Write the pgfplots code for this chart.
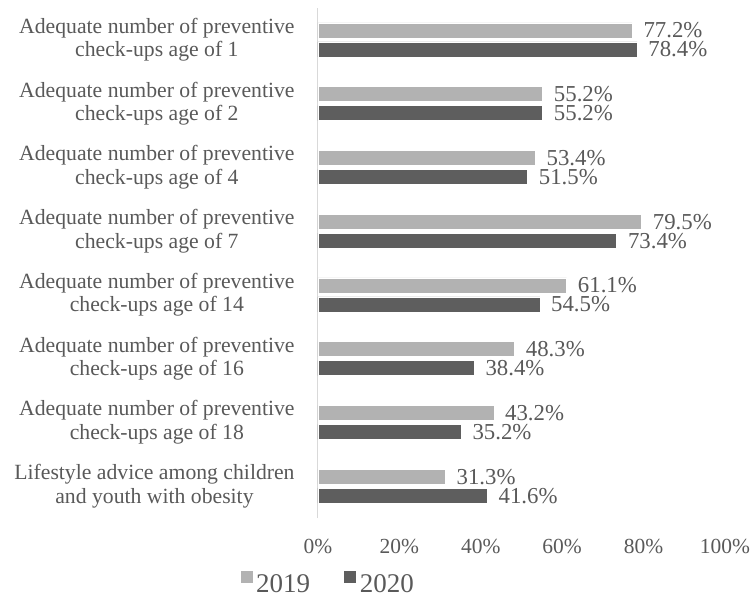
\documentclass[border=0pt]{standalone}
\usepackage{fontspec}
\setmainfont{Liberation Serif}
\usepackage{pgfplots}
\pgfplotsset{compat=1.18}
\definecolor{textgray}{HTML}{595959}
\definecolor{barlight}{HTML}{B2B2B2}
\definecolor{bardark}{HTML}{5E5E5E}
\definecolor{linegray}{HTML}{D9D9D9}
\newcommand{\cf}{\fontsize{21.5bp}{23.5bp}\selectfont}
\newcommand{\yf}{\fontsize{21.7bp}{23.5bp}\selectfont}
\newcommand{\vf}{\fontsize{22.8bp}{24bp}\selectfont}
\newcommand{\lf}{\fontsize{27bp}{29bp}\selectfont}
\begin{document}
\begin{tikzpicture}
\path[use as bounding box] (-318bp,-79bp) rectangle (433bp,518bp);
\begin{axis}[
  scale only axis,
  width=407bp, height=510bp,
  xmin=0, xmax=100, ymin=-0.5, ymax=7.5,
  clip=false,
  /pgf/number format/assume math mode=true,
  axis lines*=left,
  x axis line style={draw=none},
  y axis line style={draw=linegray, line width=1bp},
  tick style={draw=none},
  xtick={0,20,40,60,80,100},
  xticklabels={0\%,20\%,40\%,60\%,80\%,100\%},
  ytick={0,1,2,3,4,5,6,7},
  yticklabels={
    {Lifestyle advice among children\\and youth with obesity},
    {Adequate number of preventive\\check-ups age of 18},
    {Adequate number of preventive\\check-ups age of 16},
    {Adequate number of preventive\\check-ups age of 14},
    {Adequate number of preventive\\check-ups age of 7},
    {Adequate number of preventive\\check-ups age of 4},
    {Adequate number of preventive\\check-ups age of 2},
    {Adequate number of preventive\\check-ups age of 1}},
  yticklabel style={align=center, font=\yf, text=textgray, inner sep=0pt, xshift=-19bp},
  xticklabel style={font=\cf, text=textgray, inner sep=0pt, yshift=-21bp},
  xbar,
  bar width=15bp,
  nodes near coords={\pgfmathprintnumber[fixed,fixed zerofill,precision=1,assume math mode=true]{\pgfplotspointmeta}\%},
  point meta=x,
  nodes near coords style={font=\vf, text=textgray, anchor=west, inner sep=1bp, xshift=10bp},
  legend columns=2,
  legend style={draw=none, fill=none, inner sep=0pt, at={(0.025,-0.125)}, anchor=center,
    font=\lf, text=textgray, nodes={inner xsep=3bp, inner ysep=0pt},
    /tikz/every even column/.append style={column sep=30bp}},
  legend image code/.code={\fill[#1] (0bp,1bp) rectangle (13bp,14bp);},
]
\addplot[fill=barlight, draw=white, line width=0.6bp, bar shift=9.5bp] coordinates {
  (77.2,7) (55.2,6) (53.4,5) (79.5,4) (61.1,3) (48.3,2) (43.2,1) (31.3,0)};
\addplot[fill=bardark, draw=white, line width=0.6bp, bar shift=-9.5bp] coordinates {
  (78.4,7) (55.2,6) (51.5,5) (73.4,4) (54.5,3) (38.4,2) (35.2,1) (41.6,0)};
\legend{2019,2020}
\end{axis}
\end{tikzpicture}
\end{document}
